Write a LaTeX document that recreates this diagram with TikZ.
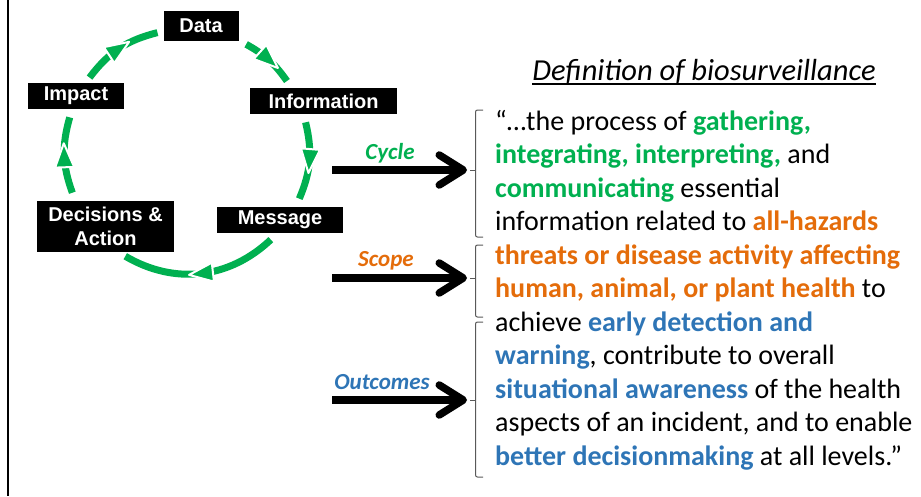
\documentclass[tikz,border=0pt]{standalone}
\usepackage{fontspec}
\setmainfont{Carlito}
\newfontfamily\boxfont{Liberation Sans}
\usetikzlibrary{arrows.meta,decorations.markings}
\definecolor{cycgreen}{RGB}{0,176,80}
\definecolor{scporange}{RGB}{228,108,10}
\definecolor{outblue}{RGB}{46,117,182}
\definecolor{brgray}{RGB}{89,89,89}
\newcommand{\rad}{122}
\newcommand{\cycw}[1]{\textcolor{cycgreen}{\bfseries #1}}
\newcommand{\scpw}[1]{\textcolor{scporange}{\bfseries #1}}
\newcommand{\outw}[1]{\textcolor{outblue}{\bfseries #1}}
%% bracket: top y, tick y, bottom y
\newcommand{\bracket}[3]{%
  \draw[bracketline] (483,#1) -- (475.5,#1) -- (475.5,#3) -- (483,#3);
  \draw[bracketline] (470,#2) -- (475.5,#2);}

\begin{document}
\begin{tikzpicture}[x=1pt,y=1pt,
  stage/.style={fill=black, text=white, inner sep=0pt, align=center,
    font=\boxfont\bfseries\fontsize{20}{24}\selectfont},
  cyclearc/.style={cycgreen, line width=7pt, postaction={decorate},
    decoration={markings, mark=at position 0.5 with
      {\filldraw[fill=cycgreen, draw=white, line width=2pt, line join=round]
         (-12,-9.5) -- (12,0) -- (-12,9.5) -- cycle;}}},
  bigarrow/.style={line width=7.5pt, -{Straight Barb[length=24pt,width=30pt,round]}},
  tag/.style={font=\bfseries\itshape\fontsize{23}{27}\selectfont, anchor=base},
  bracketline/.style={draw=brgray, line width=1pt, rounded corners=2pt}]
  \useasboundingbox (0,0) rectangle (921,-496);
  \draw[line width=2pt] (8,0) -- (8,-496);

  %% the cycle
  \coordinate (ctr) at (187,-151);
  \node[stage, minimum width=75pt, minimum height=30pt] (data) at (201,-26) {Data};
  \node[stage, minimum width=147pt, minimum height=26pt] (info) at (323.5,-101) {Information};
  \node[stage, minimum width=126pt, minimum height=26pt] (msg) at (280,-220) {Message};
  \node[stage, minimum width=137pt, minimum height=51pt] (dec) at (105.5,-226.5) {Decisions \&\\Action};
  \node[stage, minimum width=96pt, minimum height=26pt] (imp) at (76,-96) {Impact};
  \foreach \s/\e [count=\k, evaluate=\s as \bnd using (\s-\e)/2] in
    {61/35, 13.6/-23, -46.6/-120.4, 200/164, 143/104}
  { \path (ctr) ++(\s:\rad) coordinate (s\k) (ctr) ++(\e:\rad) coordinate (e\k);
    \draw[cyclearc] (s\k) to[bend left=\bnd] (e\k);}

  %% definition
  \node[anchor=base, inner sep=0pt, font=\itshape\fontsize{30.5}{36}\selectfont] (ttl) at (704,-80)
    {Definition of biosurveillance};
  \draw[line width=1.2pt] ([yshift=-4pt]ttl.base west) -- ([yshift=-4pt]ttl.base east);
  \foreach \ln [count=\k] in {
    {“…the process of \cycw{gathering,}},
    {\cycw{integrating, interpreting,} and},
    {\cycw{communicating} essential},
    {information related to \scpw{all-hazards}},
    {\scpw{threats or disease activity affecting}},
    {\scpw{human, animal, or plant health} to},
    {achieve \outw{early detection and}},
    {\outw{warning}, contribute to overall},
    {\outw{situational awareness} of the health},
    {aspects of an incident, and to enable},
    {\outw{better decisionmaking} at all levels.”}}
  { \node[anchor=base west, inner sep=0pt, font=\fontsize{28}{33.5}\selectfont] (ln\k)
      at (495,{-130-33.5*(\k-1)}) {\ln};}

  \bracket{-110}{-170}{-237}
  \bracket{-245}{-278}{-317}
  \bracket{-322}{-400}{-477}

  %% arrows into the brackets
  \coordinate (cyc-a) at (332,-170);  \coordinate (cyc-b) at (467,-170);
  \coordinate (scp-a) at (332,-278);  \coordinate (scp-b) at (467,-278);
  \coordinate (out-a) at (332,-400);  \coordinate (out-b) at (467,-400);
  \draw[bigarrow] (cyc-a) -- (cyc-b);
  \draw[bigarrow] (scp-a) -- (scp-b);
  \draw[bigarrow] (out-a) -- (out-b);
  \node[tag, cycgreen] (cyc-l) at (390,-159) {Cycle};
  \node[tag, scporange] (scp-l) at (386,-266) {Scope};
  \node[tag, outblue] (out-l) at (382,-389) {Outcomes};
\end{tikzpicture}
\end{document}
